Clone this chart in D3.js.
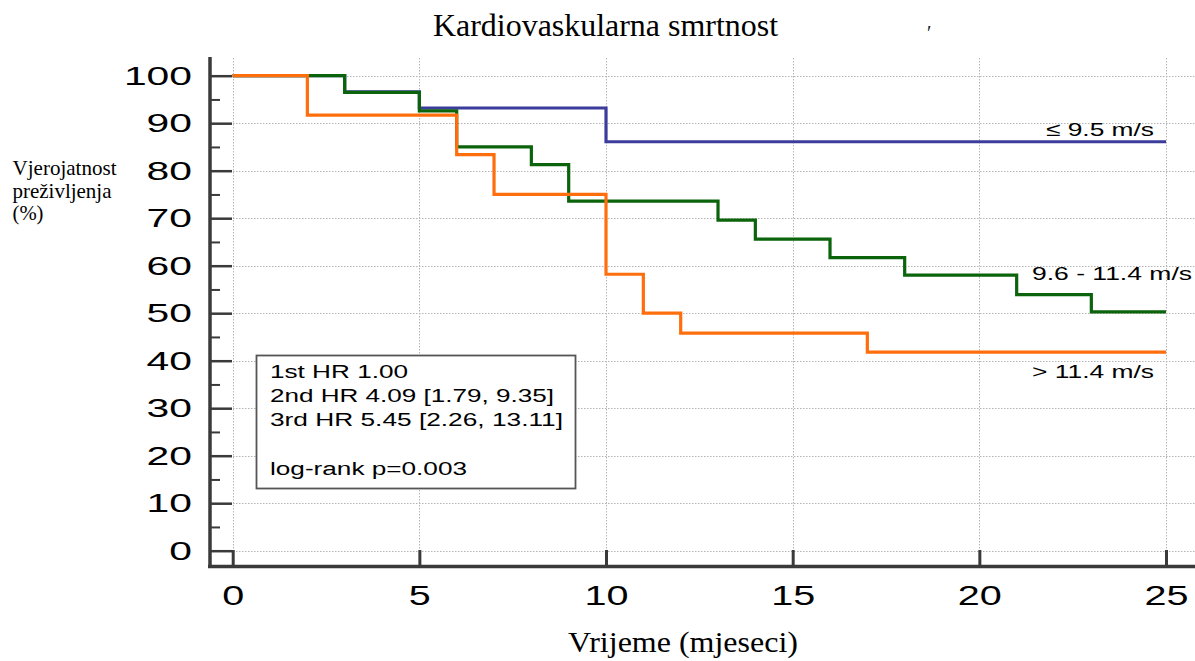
<!DOCTYPE html>
<html>
<head>
<meta charset="utf-8">
<script src="https://cdn.jsdelivr.net/npm/d3@7"></script>
<style>
  html, body { margin: 0; padding: 0; background: #fff; }
  svg { display: block; }
</style>
</head>
<body>
<svg id="chart" width="1195" height="661"></svg>
<script>
// ---- data ----
const xTicks = [0, 5, 10, 15, 20, 25];
const yTicks = [0, 10, 20, 30, 40, 50, 60, 70, 80, 90, 100];
const yMinorTicks = [5, 15, 25, 35, 45, 55, 65, 75, 85, 95];

const seriesNames = ["≤ 9.5 m/s", "9.6 - 11.4 m/s", "> 11.4 m/s"];
const lowTimes = [0, 3, 5, 10, 25];
const lowSurv = [100, 96.6, 93.2, 86.1, 86.1];
const midTimes = [0, 3, 5, 6, 8, 9, 13, 14, 16, 18, 21, 23, 25];
const midSurv = [100, 96.5, 92.6, 85.0, 81.3, 73.6, 69.6, 65.6, 61.7, 58.0, 53.9, 50.3, 50.3];
const highTimes = [0, 2, 6, 7, 10, 11, 12, 17, 25];
const highSurv = [100, 91.7, 83.4, 75.0, 58.2, 50.0, 45.8, 41.8, 41.8];

const hrLines = ["1st HR 1.00", "2nd HR 4.09 [1.79, 9.35]", "3rd HR 5.45 [2.26, 13.11]", "", "log-rank p=0.003"];
const titleText = "Kardiovaskularna smrtnost";
const yLabelLines = ["Vjerojatnost", "preživljenja", "(%)"];
const xLabelText = "Vrijeme (mjeseci)";

// ---- layout ----
const svg = d3.select("#chart");
const x = d3.scaleLinear().domain([0, 25]).range([232.7, 1166]);
const y = d3.scaleLinear().domain([0, 100]).range([550.7, 75.7]);
const sans = "Arial, 'Liberation Sans', sans-serif";
const serif = "'Times New Roman', 'Liberation Serif', serif";

// grid
const grid = svg.append("g").attr("stroke", "#b4b4b4").attr("stroke-width", 1).attr("stroke-dasharray", "1.5,1.5");
grid.selectAll("line.h").data(yTicks).join("line")
  .attr("x1", 233).attr("x2", 1195)
  .attr("y1", d => Math.round(y(d)) + 0.5).attr("y2", d => Math.round(y(d)) + 0.5);
grid.selectAll("line.v").data(xTicks).join("line")
  .attr("y1", 58).attr("y2", 550)
  .attr("x1", d => Math.round(x(d)) + 0.5).attr("x2", d => Math.round(x(d)) + 0.5);

// y axis (major)
const yAxisG = svg.append("g").attr("transform", "translate(232,0)")
  .call(d3.axisLeft(y).tickValues(yTicks).tickSizeInner(22).tickSizeOuter(0).tickPadding(18));
yAxisG.select(".domain").remove();
yAxisG.selectAll(".tick line").attr("stroke", "#3a3a3a").attr("stroke-width", 2.5);
yAxisG.selectAll(".tick text")
  .attr("fill", "#000").attr("font-family", sans).attr("font-size", 26.5)
  .attr("textLength", d => String(d).length * 22.7).attr("lengthAdjust", "spacingAndGlyphs");

// y axis (minor)
const yMinorG = svg.append("g").attr("transform", "translate(220,0)")
  .call(d3.axisLeft(y).tickValues(yMinorTicks).tickSizeInner(10).tickSizeOuter(0).tickFormat(""));
yMinorG.select(".domain").remove();
yMinorG.selectAll(".tick line").attr("stroke", "#3a3a3a").attr("stroke-width", 2);

// x axis
const xAxisG = svg.append("g").attr("transform", "translate(0,566)")
  .call(d3.axisBottom(x).tickValues(xTicks).tickSizeInner(-16).tickSizeOuter(0).tickPadding(20));
xAxisG.select(".domain").remove();
xAxisG.selectAll(".tick line").attr("stroke", "#3a3a3a").attr("stroke-width", 3);
xAxisG.selectAll(".tick text")
  .attr("fill", "#000").attr("font-family", sans).attr("font-size", 27)
  .attr("textLength", d => String(d).length * 22).attr("lengthAdjust", "spacingAndGlyphs");

// axis lines
svg.append("line").attr("x1", 210).attr("x2", 210).attr("y1", 57).attr("y2", 568)
  .attr("stroke", "#3a3a3a").attr("stroke-width", 3.5);
svg.append("line").attr("x1", 208).attr("x2", 1195).attr("y1", 566.5).attr("y2", 566.5)
  .attr("stroke", "#3a3a3a").attr("stroke-width", 3.5);

// survival curves
const line = d3.line().x(d => x(d[0])).y(d => y(d[1])).curve(d3.curveStepAfter);
const curves = [
  { t: lowTimes, s: lowSurv, color: "#3c3c9c" },
  { t: midTimes, s: midSurv, color: "#0b640b" },
  { t: highTimes, s: highSurv, color: "#ff6e0c" }
];
svg.append("g").selectAll("path").data(curves).join("path")
  .attr("d", c => line(c.t.map((t, i) => [t, c.s[i]])))
  .attr("fill", "none").attr("stroke", c => c.color).attr("stroke-width", 3.2)
  .attr("stroke-linejoin", "miter");

// curve labels
const curveLabels = [
  { text: seriesNames[0], x: 1154, y: 136, anchor: "end", len: 108 },
  { text: seriesNames[1], x: 1032, y: 280, anchor: "start", len: 160 },
  { text: seriesNames[2], x: 1032, y: 378, anchor: "start", len: 122 }
];
svg.append("g").selectAll("text").data(curveLabels).join("text")
  .attr("x", d => d.x).attr("y", d => d.y).attr("text-anchor", d => d.anchor)
  .attr("font-family", sans).attr("font-size", 19).attr("fill", "#000")
  .attr("textLength", d => d.len).attr("lengthAdjust", "spacingAndGlyphs")
  .text(d => d.text);

// HR box
svg.append("rect").attr("x", 256.5).attr("y", 355.5).attr("width", 319).attr("height", 133)
  .attr("fill", "#fff").attr("stroke", "#555").attr("stroke-width", 1.8);
const hrLens = [138, 284, 293, 0, 197];
svg.append("g").selectAll("text").data(hrLines).join("text")
  .attr("x", 270).attr("y", (d, i) => 378 + i * 24.2)
  .attr("font-family", sans).attr("font-size", 18).attr("fill", "#000")
  .each(function(d, i) {
    if (hrLens[i] > 0) d3.select(this).attr("textLength", hrLens[i]).attr("lengthAdjust", "spacingAndGlyphs");
  })
  .text(d => d);

// title
svg.append("text").attr("x", 433).attr("y", 36)
  .attr("font-family", serif).attr("font-size", 32).attr("fill", "#000")
  .attr("textLength", 345).attr("lengthAdjust", "spacingAndGlyphs")
  .text(titleText);
svg.append("text").attr("x", 927).attr("y", 40)
  .attr("font-family", serif).attr("font-size", 20).attr("fill", "#111")
  .text("′");

// y label
const yLens = [104, 99, 31];
svg.append("g").selectAll("text").data(yLabelLines).join("text")
  .attr("x", 12.5).attr("y", (d, i) => 175 + i * 22.5)
  .attr("font-family", serif).attr("font-size", 21).attr("fill", "#000")
  .attr("textLength", (d, i) => yLens[i]).attr("lengthAdjust", "spacingAndGlyphs")
  .text(d => d);

// x label
svg.append("text").attr("x", 568).attr("y", 652)
  .attr("font-family", serif).attr("font-size", 29).attr("fill", "#000")
  .attr("textLength", 230).attr("lengthAdjust", "spacingAndGlyphs")
  .text(xLabelText);
</script>
</body>
</html>
